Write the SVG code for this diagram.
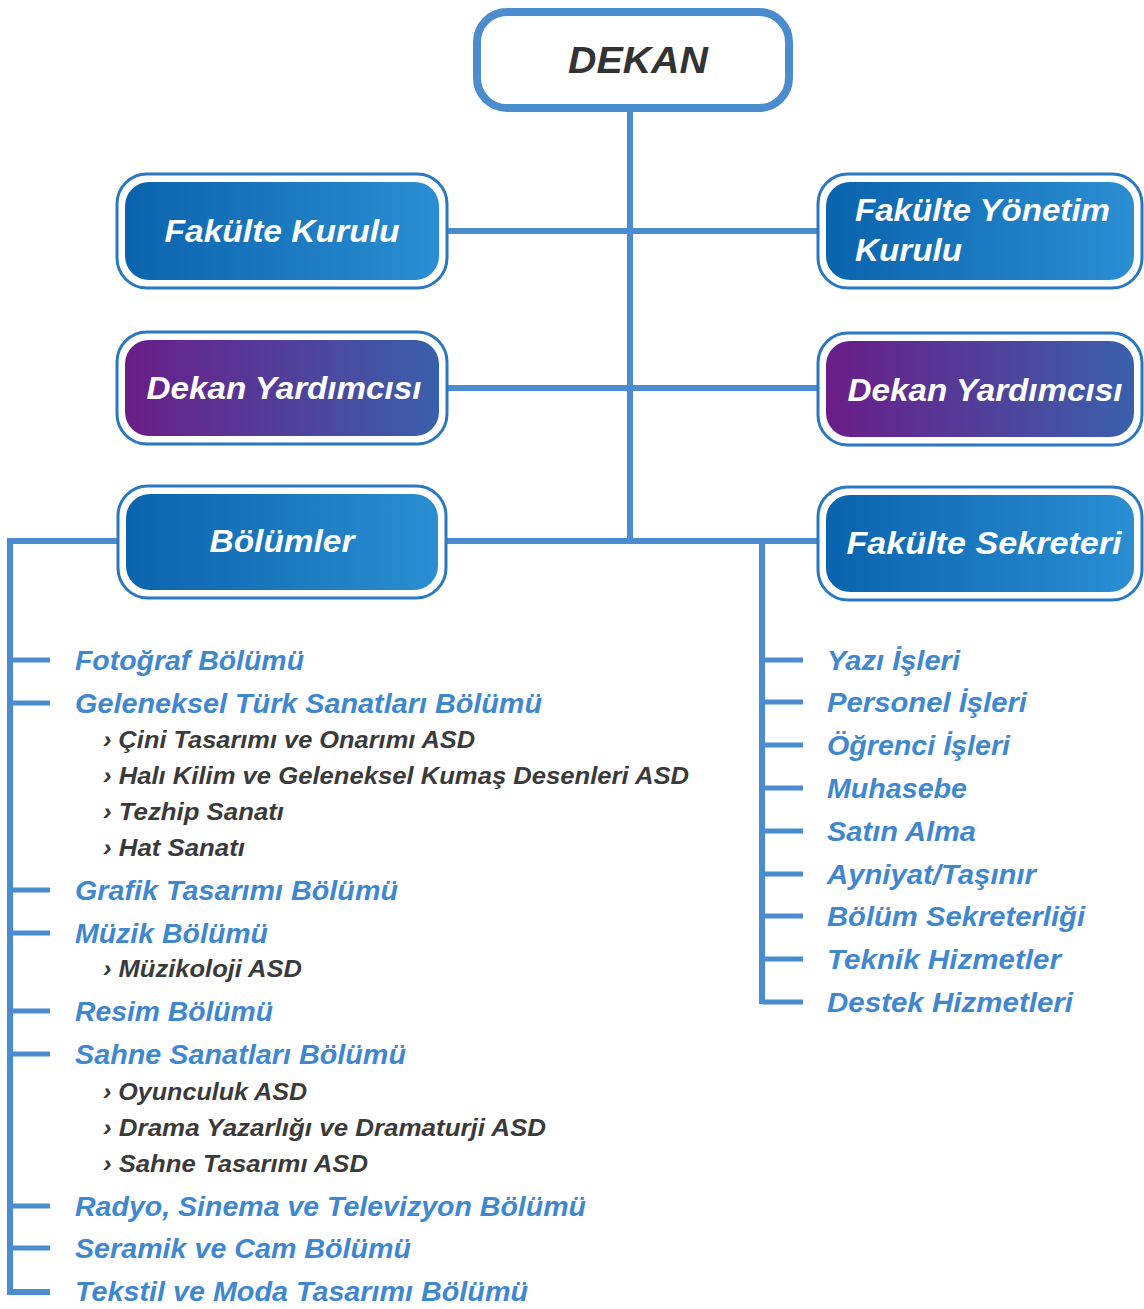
<svg xmlns="http://www.w3.org/2000/svg" width="1144" height="1309" viewBox="0 0 1144 1309">
<defs>
<linearGradient id="gBlue" x1="0" y1="0" x2="1" y2="0">
<stop offset="0" stop-color="#0a63ad"/><stop offset="1" stop-color="#2b8ed2"/>
</linearGradient>
<linearGradient id="gPurple" x1="0" y1="0" x2="1" y2="0">
<stop offset="0" stop-color="#6a1d87"/><stop offset="1" stop-color="#3a60ac"/>
</linearGradient>
<style>
.ln{stroke:#4a8ccd;stroke-width:6;fill:none}
.tk{stroke:#4a8ccd;stroke-width:5;fill:none}
.outer{fill:#ffffff;stroke:#2a78bf;stroke-width:3}
.bt{font-family:"Liberation Sans",Arial,sans-serif;font-weight:bold;font-style:italic;font-size:32px;fill:#ffffff}
.dep{font-family:"Liberation Sans",Arial,sans-serif;font-weight:bold;font-style:italic;font-size:27px;fill:#3f87cf}
.sub{font-family:"Liberation Sans",Arial,sans-serif;font-weight:bold;font-style:italic;font-size:23px;fill:#3a3a3a}
.off{font-family:"Liberation Sans",Arial,sans-serif;font-weight:bold;font-style:italic;font-size:28px;fill:#3f87cf}
</style>
</defs>
<rect width="1144" height="1309" fill="#ffffff"/>

<g id="connectors">
<line class="ln" x1="630" y1="108" x2="630" y2="544"/>
<line class="ln" x1="446" y1="231" x2="818" y2="231"/>
<line class="ln" x1="446" y1="388" x2="818" y2="388"/>
<line class="ln" x1="446" y1="541" x2="818" y2="541"/>
<polyline class="ln" points="118,541 10,541 10,1292 50,1292"/>
<line class="ln" x1="762" y1="541" x2="762" y2="1004"/>
<line class="tk" x1="762" y1="1002" x2="803" y2="1002"/>
<g>
<line class="tk" x1="10" y1="660" x2="50" y2="660"/>
<line class="tk" x1="10" y1="703" x2="50" y2="703"/>
<line class="tk" x1="10" y1="890" x2="50" y2="890"/>
<line class="tk" x1="10" y1="933" x2="50" y2="933"/>
<line class="tk" x1="10" y1="1011" x2="50" y2="1011"/>
<line class="tk" x1="10" y1="1054" x2="50" y2="1054"/>
<line class="tk" x1="10" y1="1206" x2="50" y2="1206"/>
<line class="tk" x1="10" y1="1248" x2="50" y2="1248"/>
</g>
<g>
<line class="tk" x1="762" y1="660" x2="803" y2="660"/>
<line class="tk" x1="762" y1="702" x2="803" y2="702"/>
<line class="tk" x1="762" y1="745" x2="803" y2="745"/>
<line class="tk" x1="762" y1="788" x2="803" y2="788"/>
<line class="tk" x1="762" y1="831" x2="803" y2="831"/>
<line class="tk" x1="762" y1="874" x2="803" y2="874"/>
<line class="tk" x1="762" y1="916" x2="803" y2="916"/>
<line class="tk" x1="762" y1="959" x2="803" y2="959"/>
</g>
</g>

<g id="dekan">
<rect x="477" y="12" width="312" height="96" rx="30" fill="#ffffff" stroke="#4a8ccd" stroke-width="8"/>
<text x="638" y="73" text-anchor="middle" font-family="Liberation Sans, Arial, sans-serif" font-weight="bold" font-style="italic" font-size="36" fill="#333333" textLength="140" lengthAdjust="spacingAndGlyphs">DEKAN</text>
</g>

<g id="fakulte-kurulu">
<rect class="outer" x="117" y="174" width="330" height="114" rx="30"/>
<rect x="125" y="182" width="314" height="98" rx="24" fill="url(#gBlue)"/>
<text class="bt" x="282" y="242" text-anchor="middle" textLength="235" lengthAdjust="spacingAndGlyphs">Fakülte Kurulu</text>
</g>

<g id="fakulte-yonetim-kurulu">
<rect class="outer" x="818" y="174" width="324" height="114" rx="30"/>
<rect x="826" y="182" width="308" height="98" rx="24" fill="url(#gBlue)"/>
<text class="bt" x="855" y="221" textLength="255" lengthAdjust="spacingAndGlyphs">Fakülte Yönetim</text>
<text class="bt" x="855" y="261" textLength="107" lengthAdjust="spacingAndGlyphs">Kurulu</text>
</g>

<g id="dekan-yardimcisi-1">
<rect class="outer" x="117" y="332" width="330" height="112" rx="30"/>
<rect x="125" y="340" width="314" height="96" rx="24" fill="url(#gPurple)"/>
<text class="bt" x="284" y="399" text-anchor="middle" textLength="275" lengthAdjust="spacingAndGlyphs">Dekan Yardımcısı</text>
</g>

<g id="dekan-yardimcisi-2">
<rect class="outer" x="818" y="333" width="324" height="112" rx="30"/>
<rect x="826" y="341" width="308" height="96" rx="24" fill="url(#gPurple)"/>
<text class="bt" x="985" y="401" text-anchor="middle" textLength="275" lengthAdjust="spacingAndGlyphs">Dekan Yardımcısı</text>
</g>

<g id="bolumler">
<rect class="outer" x="118" y="486" width="328" height="112" rx="30"/>
<rect x="126" y="494" width="312" height="96" rx="24" fill="url(#gBlue)"/>
<text class="bt" x="282" y="552" text-anchor="middle" textLength="145" lengthAdjust="spacingAndGlyphs">Bölümler</text>
</g>

<g id="fakulte-sekreteri">
<rect class="outer" x="818" y="487" width="324" height="113" rx="30"/>
<rect x="826" y="495" width="308" height="97" rx="24" fill="url(#gBlue)"/>
<text class="bt" x="984" y="554" text-anchor="middle" textLength="275" lengthAdjust="spacingAndGlyphs">Fakülte Sekreteri</text>
</g>

<g id="bolum-listesi">
<text class="dep" x="75" y="670" textLength="229" lengthAdjust="spacingAndGlyphs">Fotoğraf Bölümü</text>
<text class="dep" x="75" y="713" textLength="467" lengthAdjust="spacingAndGlyphs">Geleneksel Türk Sanatları Bölümü</text>
<text class="sub" x="103" y="748" textLength="372" lengthAdjust="spacingAndGlyphs">› Çini Tasarımı ve Onarımı ASD</text>
<text class="sub" x="103" y="784" textLength="586" lengthAdjust="spacingAndGlyphs">› Halı Kilim ve Geleneksel Kumaş Desenleri ASD</text>
<text class="sub" x="103" y="820" textLength="181" lengthAdjust="spacingAndGlyphs">› Tezhip Sanatı</text>
<text class="sub" x="103" y="856" textLength="142" lengthAdjust="spacingAndGlyphs">› Hat Sanatı</text>
<text class="dep" x="75" y="900" textLength="323" lengthAdjust="spacingAndGlyphs">Grafik Tasarımı Bölümü</text>
<text class="dep" x="75" y="943" textLength="193" lengthAdjust="spacingAndGlyphs">Müzik Bölümü</text>
<text class="sub" x="103" y="977" textLength="199" lengthAdjust="spacingAndGlyphs">› Müzikoloji ASD</text>
<text class="dep" x="75" y="1021" textLength="198" lengthAdjust="spacingAndGlyphs">Resim Bölümü</text>
<text class="dep" x="75" y="1064" textLength="331" lengthAdjust="spacingAndGlyphs">Sahne Sanatları Bölümü</text>
<text class="sub" x="103" y="1100" textLength="204" lengthAdjust="spacingAndGlyphs">› Oyunculuk ASD</text>
<text class="sub" x="103" y="1136" textLength="443" lengthAdjust="spacingAndGlyphs">› Drama Yazarlığı ve Dramaturji ASD</text>
<text class="sub" x="103" y="1172" textLength="265" lengthAdjust="spacingAndGlyphs">› Sahne Tasarımı ASD</text>
<text class="dep" x="75" y="1216" textLength="511" lengthAdjust="spacingAndGlyphs">Radyo, Sinema ve Televizyon Bölümü</text>
<text class="dep" x="75" y="1258" textLength="336" lengthAdjust="spacingAndGlyphs">Seramik ve Cam Bölümü</text>
<text class="dep" x="75" y="1301" textLength="453" lengthAdjust="spacingAndGlyphs">Tekstil ve Moda Tasarımı Bölümü</text>
</g>

<g id="sekreterlik-listesi">
<text class="off" x="827" y="670" textLength="133" lengthAdjust="spacingAndGlyphs">Yazı İşleri</text>
<text class="off" x="827" y="712" textLength="200" lengthAdjust="spacingAndGlyphs">Personel İşleri</text>
<text class="off" x="827" y="755" textLength="183" lengthAdjust="spacingAndGlyphs">Öğrenci İşleri</text>
<text class="off" x="827" y="798" textLength="140" lengthAdjust="spacingAndGlyphs">Muhasebe</text>
<text class="off" x="827" y="841" textLength="149" lengthAdjust="spacingAndGlyphs">Satın Alma</text>
<text class="off" x="827" y="884" textLength="209" lengthAdjust="spacingAndGlyphs">Ayniyat/Taşınır</text>
<text class="off" x="827" y="926" textLength="258" lengthAdjust="spacingAndGlyphs">Bölüm Sekreterliği</text>
<text class="off" x="827" y="969" textLength="234" lengthAdjust="spacingAndGlyphs">Teknik Hizmetler</text>
<text class="off" x="827" y="1012" textLength="246" lengthAdjust="spacingAndGlyphs">Destek Hizmetleri</text>
</g>
</svg>
